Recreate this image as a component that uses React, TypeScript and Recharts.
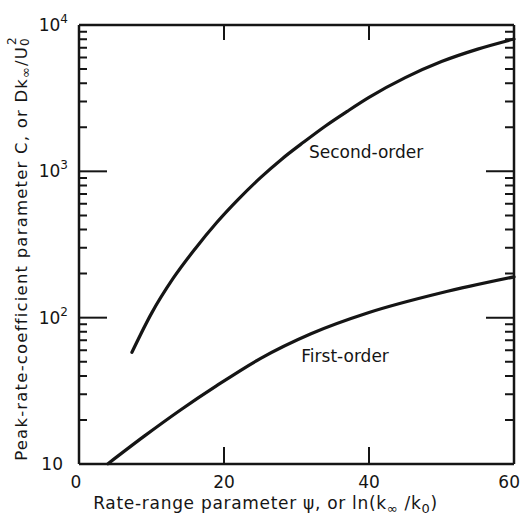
import React from 'react';
import { LineChart, Line, XAxis, YAxis, ReferenceDot } from 'recharts';

const secondOrderX = [7.3, 10, 13, 16, 19, 22, 25, 28, 31, 34, 37, 40, 45, 50, 55, 60];
const secondOrderY = [58, 107, 186, 295, 447, 646, 902, 1216, 1585, 2042, 2570, 3200, 4365, 5623, 6839, 8017];
const firstOrderX = [4.0, 9, 14, 19, 25, 32, 40, 50, 60];
const firstOrderY = [10.05, 15.5, 23.4, 34.3, 52.5, 77.6, 108.4, 147.9, 190];
const xTicks = [0, 20, 40, 60];
const xInnerTicks = [20, 40];
const yTicks = [10, 20, 30, 40, 50, 60, 70, 80, 90, 100, 200, 300, 400, 500, 600, 700, 800, 900, 1000, 2000, 3000, 4000, 5000, 6000, 7000, 8000, 9000, 10000];
const yMajorTicks = [10, 100, 1000, 10000];
const curveLabels = [
  { text: 'Second-order', x: 39.6, y: 1350 },
  { text: 'First-order', x: 36.7, y: 55 },
];

const secondOrder = secondOrderX.map((x, i) => ({ x, y: secondOrderY[i] }));
const firstOrder = firstOrderX.map((x, i) => ({ x, y: firstOrderY[i] }));

// Frame geometry (layout) used to express inward tick-mark lengths in axis units
const X_MIN = 0;
const X_MAX = 60;
const Y_MAX = 10000;
const PLOT_W = 435;
const PLOT_DECADE_H = 440 / 3;
const MINOR_LEFT = (8 / PLOT_W) * (X_MAX - X_MIN);
const MINOR_RIGHT = (9 / PLOT_W) * (X_MAX - X_MIN);
const MAJOR_RIGHT = (28 / PLOT_W) * (X_MAX - X_MIN);
const TOP_TICK_FACTOR = Math.pow(10, -15 / PLOT_DECADE_H);

const yMinorTicks = yTicks.filter((v) => !yMajorTicks.includes(v));
const yInnerMajors = yMajorTicks.filter((v) => v !== 10 && v !== 10000);
const tickMarks: { x: number; y: number | null }[] = [];
yMinorTicks.forEach((v) => {
  tickMarks.push({ x: X_MIN, y: v }, { x: X_MIN + MINOR_LEFT, y: v }, { x: X_MIN + MINOR_LEFT, y: null });
  tickMarks.push({ x: X_MAX - MINOR_RIGHT, y: v }, { x: X_MAX, y: v }, { x: X_MAX, y: null });
});
yInnerMajors.forEach((v) => {
  tickMarks.push({ x: X_MAX - MAJOR_RIGHT, y: v }, { x: X_MAX, y: v }, { x: X_MAX, y: null });
});
xInnerTicks.forEach((v) => {
  tickMarks.push({ x: v, y: Y_MAX }, { x: v, y: Y_MAX * TOP_TICK_FACTOR }, { x: v, y: null });
});

const INK = '#151515';
const FONT = '"DejaVu Sans", sans-serif';

const LeftTick = (props: any) => {
  const { x, y, payload } = props;
  const v = payload.value;
  const exp = Math.round(Math.log10(v));
  return (
    <g>
      <line x1={x} x2={x + 28} y1={y} y2={y} stroke={INK} strokeWidth={2} />
      {exp === 1 ? (
        <text x={x - 16} y={y + 6} textAnchor="end" fontSize={17} fill={INK} fontFamily={FONT}>10</text>
      ) : (
        <text x={x - 11} y={y + 6} textAnchor="end" fontSize={17} fill={INK} fontFamily={FONT}>
          10<tspan dy={-8} fontSize={12}>{exp}</tspan>
        </text>
      )}
    </g>
  );
};

const BottomTick = (props: any) => {
  const { x, y, payload } = props;
  const v = payload.value;
  const inner = v !== 0 && v !== 60;
  const anchor = v === 60 ? 'end' : 'middle';
  const tx = v === 60 ? x + 6 : v === 0 ? x - 3 : x;
  return (
    <g>
      {inner && <line x1={x} x2={x} y1={y} y2={y - 17} stroke={INK} strokeWidth={2} />}
      <text x={tx} y={y + 24} textAnchor={anchor} fontSize={17} fill={INK} fontFamily={FONT}>{v}</text>
    </g>
  );
};

const XTitle = (props: any) => {
  const { viewBox } = props;
  const cx = viewBox.x + viewBox.width / 2 - 31;
  const by = viewBox.y + 45;
  return (
    <text x={cx} y={by} textAnchor="middle" fontSize={17} letterSpacing={0.7} fill={INK} fontFamily={FONT}>
      Rate-range parameter ψ, or ln(k<tspan dy={4} fontSize={13}>∞</tspan>
      <tspan dy={-4}> /k</tspan>
      <tspan dy={4} fontSize={13}>0</tspan>
      <tspan dy={-4}>)</tspan>
    </text>
  );
};

const YTitle = (props: any) => {
  const { viewBox } = props;
  const cx = 21;
  const cy = viewBox.y + viewBox.height / 2 + 4;
  return (
    <text
      x={cx}
      y={cy}
      transform={`rotate(-90, ${cx}, ${cy})`}
      textAnchor="middle"
      dominantBaseline="central"
      fontSize={16.5}
      letterSpacing={1.2}
      fill={INK}
      fontFamily={FONT}
    >
      Peak-rate-coefficient parameter C, or Dk<tspan dy={4} fontSize={13}>∞</tspan>
      <tspan dy={-4}>/U</tspan>
      <tspan dy={4} fontSize={12}>0</tspan>
      <tspan dx={-8} dy={-13} fontSize={12}>2</tspan>
    </text>
  );
};

const CurveLabel = (text: string) => (props: any) => (
  <text x={props.cx} y={props.cy} textAnchor="middle" dominantBaseline="central" fontSize={17} fill={INK} fontFamily={FONT}>
    {text}
  </text>
);

export default function App() {
  return (
    <div style={{ position: 'absolute', left: 0, top: 0, background: '#fff' }}>
      <LineChart width={521} height={515} margin={{ top: 24, right: 6, bottom: 0, left: 0 }}>
        <XAxis
          xAxisId="bottom"
          dataKey="x"
          type="number"
          domain={[X_MIN, X_MAX]}
          ticks={xTicks}
          interval={0}
          height={51}
          tickSize={0}
          tickMargin={0}
          tickLine={false}
          axisLine={{ stroke: INK, strokeWidth: 2.5 }}
          tick={<BottomTick />}
          label={<XTitle />}
        />
        <XAxis
          xAxisId="top"
          orientation="top"
          dataKey="x"
          type="number"
          domain={[X_MIN, X_MAX]}
          height={1}
          tick={false}
          tickLine={false}
          axisLine={{ stroke: INK, strokeWidth: 2.5 }}
        />
        <YAxis
          yAxisId="left"
          type="number"
          scale="log"
          domain={[10, Y_MAX]}
          ticks={yMajorTicks}
          interval={0}
          width={79}
          tickSize={0}
          tickMargin={0}
          tickLine={false}
          axisLine={{ stroke: INK, strokeWidth: 2.5 }}
          tick={<LeftTick />}
          label={<YTitle />}
        />
        <YAxis
          yAxisId="right"
          orientation="right"
          type="number"
          scale="log"
          domain={[10, Y_MAX]}
          width={1}
          tick={false}
          tickLine={false}
          axisLine={{ stroke: INK, strokeWidth: 2.5 }}
        />
        <Line
          xAxisId="bottom"
          yAxisId="left"
          data={tickMarks}
          dataKey="y"
          type="linear"
          stroke={INK}
          strokeWidth={2}
          dot={false}
          activeDot={false}
          connectNulls={false}
          legendType="none"
          isAnimationActive={false}
        />
        <Line
          xAxisId="top"
          yAxisId="right"
          data={secondOrder}
          dataKey="y"
          type="monotone"
          stroke={INK}
          strokeWidth={3.2}
          strokeLinecap="round"
          dot={false}
          isAnimationActive={false}
        />
        <Line
          xAxisId="bottom"
          yAxisId="left"
          data={firstOrder}
          dataKey="y"
          type="monotone"
          stroke={INK}
          strokeWidth={3.2}
          strokeLinecap="round"
          dot={false}
          isAnimationActive={false}
        />
        {curveLabels.map((c) => (
          <ReferenceDot
            key={c.text}
            xAxisId="bottom"
            yAxisId="left"
            x={c.x}
            y={c.y}
            r={0}
            shape={CurveLabel(c.text)}
          />
        ))}
      </LineChart>
    </div>
  );
}
